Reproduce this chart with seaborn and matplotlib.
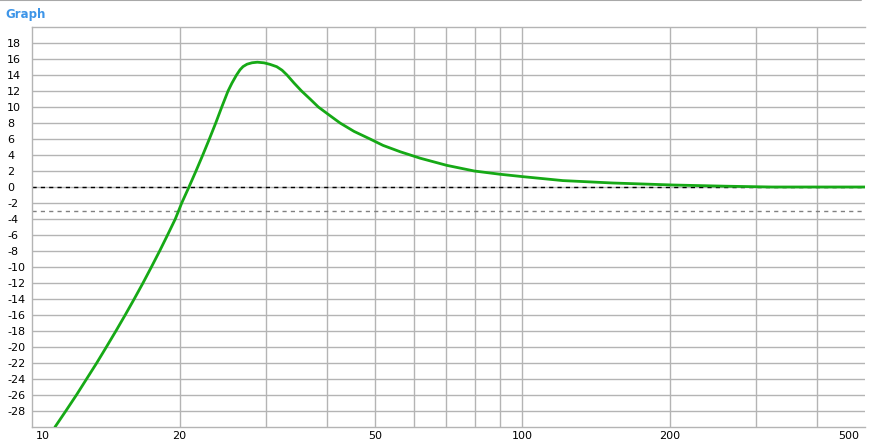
import numpy as np
import pandas as pd
import matplotlib
matplotlib.use('Agg')
import matplotlib.pyplot as plt
import matplotlib.transforms as mtransforms
import seaborn as sns
from matplotlib.lines import Line2D
from matplotlib.ticker import FixedLocator, NullLocator

# Values
freq = [11.14, 11.72, 12.32, 12.92, 13.55, 14.18, 14.83, 15.49, 16.16, 16.84, 17.52,
        18.21, 18.90, 19.60, 19.90, 20.20, 20.90, 21.60, 22.30, 23.00, 23.70, 24.38,
        25.11, 25.58, 26.13, 26.56, 26.94, 27.45, 28.11, 28.82, 29.73, 30.58, 31.56,
        32.36, 33.12, 34.23, 35.46, 36.91, 38.37, 40.16, 42.49, 45.38, 48.92, 52.0,
        56.4, 61.9, 70.2, 79.8, 89.9, 100, 121, 153, 203, 260, 323, 500]
gain = [-30, -28, -26, -24, -22, -20, -18, -16, -14, -12, -10,
        -8, -6, -4, -3, -2, 0, 2, 4, 6, 8, 10,
        12, 13.0, 14.0, 14.65, 15.05, 15.35, 15.53, 15.6, 15.52, 15.33, 15.04,
        14.6, 14.0, 13.0, 12.0, 11.0, 10.0, 9.1, 8.0, 6.95, 6.0, 5.2,
        4.4, 3.6, 2.7, 2.0, 1.6, 1.3, 0.8, 0.5, 0.25, 0.1, 0.0, 0.0]

x_grid = [20, 30, 40, 50, 60, 70, 80, 90, 100, 200, 300, 400]
x_labels = [10, 20, 50, 100, 200, 500]
y_ticks = list(range(-28, 20, 2))

df = pd.DataFrame({'freq': freq, 'gain': gain})

sns.set_style('white')
plt.rcParams['axes.unicode_minus'] = False
fig = plt.figure(figsize=(8.7, 4.47), dpi=100)
ax = fig.add_axes([32 / 870, 20 / 447, 833 / 870, 400 / 447])

grid_c = '#b4b4b4'
for v in x_grid:
    ax.axvline(v, color=grid_c, lw=1, zorder=1)
for v in y_ticks:
    ax.axhline(v, color=grid_c, lw=1, zorder=1)

ax.axhline(0, color='black', lw=1, ls=(0, (3, 3)), zorder=2)
ax.axhline(-3, color='#808080', lw=1, ls=(0, (3, 3)), zorder=2)

sns.lineplot(data=df, x='freq', y='gain', ax=ax, color='#16a916', lw=2.0, zorder=3)

ax.set_xscale('log')
ax.set_xlim(10, 500)
ax.set_ylim(-30, 20)
ax.xaxis.set_major_locator(FixedLocator(x_labels))
ax.xaxis.set_minor_locator(NullLocator())
ax.set_xticklabels([str(v) for v in x_labels])
ax.set_yticks(y_ticks)
ax.set_xlabel('')
ax.set_ylabel('')
ax.grid(False)

ax.tick_params(axis='x', length=0, pad=3, labelsize=8, labelcolor='black')
ax.tick_params(axis='y', length=0, pad=18, labelsize=8, labelcolor='black')
for t in ax.get_yticklabels():
    t.set_ha('left')
xt = ax.get_xticklabels()
xt[0].set_ha('left')
xt[0].set_transform(xt[0].get_transform() + mtransforms.ScaledTranslation(4 / 100, 0, fig.dpi_scale_trans))
xt[-1].set_ha('right')
xt[-1].set_transform(xt[-1].get_transform() + mtransforms.ScaledTranslation(-6 / 100, 0, fig.dpi_scale_trans))

for s in ['left', 'top', 'bottom']:
    ax.spines[s].set_color(grid_c)
    ax.spines[s].set_linewidth(1)
ax.spines['right'].set_visible(False)

fig.text(5 / 870, 1 - 14.5 / 447, 'Graph', color='#3d95e8', fontsize=8.5,
         fontweight='bold', va='center', ha='left')
fig.add_artist(Line2D([0, 0.99], [0.999, 0.999], color='#a8a8a8', lw=1.5,
                      transform=fig.transFigure))

fig.savefig('out.png', dpi=100)
